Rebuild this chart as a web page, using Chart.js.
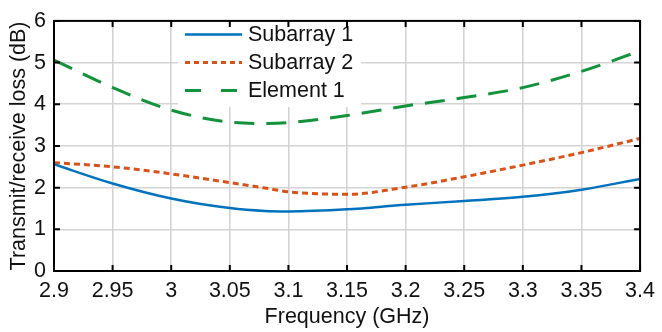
<!DOCTYPE html>
<html>
<head>
<meta charset="utf-8">
<script src="https://cdn.jsdelivr.net/npm/chart.js@4/dist/chart.umd.min.js"></script>
<style>
  html, body { margin: 0; padding: 0; background: #fff; }
  #wrap { width: 662px; height: 332px; }
</style>
</head>
<body>
<div id="wrap"><canvas id="c" width="662" height="332"></canvas></div>
<script>
// ---- data ----
const frequencies = [2.9, 2.95, 3.0, 3.05, 3.08, 3.1, 3.15, 3.2, 3.25, 3.3, 3.35, 3.4];
const subarray1   = [2.56, 2.10, 1.74, 1.51, 1.44, 1.43, 1.48, 1.59, 1.68, 1.78, 1.95, 2.21];
const subarray2   = [2.60, 2.50, 2.33, 2.12, 1.99, 1.90, 1.84, 2.01, 2.26, 2.54, 2.84, 3.18];
const element1    = [5.06, 4.40, 3.86, 3.57, 3.54, 3.56, 3.73, 3.96, 4.16, 4.40, 4.79, 5.28];
const seriesNames = ['Subarray 1', 'Subarray 2', 'Element 1'];
const xTicks = [2.9, 2.95, 3.0, 3.05, 3.1, 3.15, 3.2, 3.25, 3.3, 3.35, 3.4];
const yTicks = [0, 1, 2, 3, 4, 5, 6];
const xTitle = 'Frequency (GHz)';
const yTitle = 'Transmit/receive loss (dB)';

const FONT = "'Liberation Sans', Arial, Helvetica, sans-serif";
const FS = 21.5;

function pts(ys) { return frequencies.map((f, i) => ({ x: f, y: ys[i] })); }

const legendPlugin = {
  id: 'insideLegend',
  afterDatasetsDraw(chart) {
    const ctx = chart.ctx;
    ctx.save();
    ctx.fillStyle = '#ffffff';
    ctx.fillRect(178, 21, 183, 86);
    const rows = [34.5, 62.5, 90.5];
    chart.data.datasets.forEach((ds, i) => {
      const y = rows[i];
      ctx.strokeStyle = ds.borderColor;
      ctx.lineWidth = ds.borderWidth;
      ctx.setLineDash(ds.legendDash || []);
      ctx.lineCap = 'butt';
      ctx.beginPath();
      ctx.moveTo(185, y);
      ctx.lineTo(242, y);
      ctx.stroke();
      ctx.setLineDash([]);
      ctx.fillStyle = '#111';
      ctx.font = FS + 'px ' + FONT;
      ctx.textAlign = 'left';
      ctx.textBaseline = 'middle';
      ctx.fillText(ds.label, 248, y + 1);
    });
    ctx.restore();
  }
};

const boxPlugin = {
  id: 'axesBox',
  afterDraw(chart) {
    const { ctx, chartArea: a, scales } = chart;
    ctx.save();
    ctx.strokeStyle = '#000';
    ctx.lineWidth = 2;
    ctx.setLineDash([]);
    ctx.strokeRect(a.left, a.top, a.right - a.left, a.bottom - a.top);
    const L = 6;
    ctx.beginPath();
    xTicks.forEach(v => {
      const x = scales.x.getPixelForValue(v);
      ctx.moveTo(x, a.bottom); ctx.lineTo(x, a.bottom - L);
      ctx.moveTo(x, a.top); ctx.lineTo(x, a.top + L);
    });
    yTicks.forEach(v => {
      const y = scales.y.getPixelForValue(v);
      ctx.moveTo(a.left, y); ctx.lineTo(a.left + L, y);
      ctx.moveTo(a.right, y); ctx.lineTo(a.right - L, y);
    });
    ctx.stroke();
    ctx.restore();
  }
};

new Chart(document.getElementById('c'), {
  type: 'line',
  data: {
    datasets: [
      { label: seriesNames[0], data: pts(subarray1), borderColor: '#0072BD', borderWidth: 2.5,
        borderDash: [], legendDash: [] },
      { label: seriesNames[1], data: pts(subarray2), borderColor: '#D95319', borderWidth: 3,
        borderDash: [6, 4], legendDash: [5, 4] },
      { label: seriesNames[2], data: pts(element1), borderColor: '#12923A', borderWidth: 3,
        borderDash: [20, 12], legendDash: [16, 20] }
    ]
  },
  options: {
    responsive: false,
    animation: false,
    devicePixelRatio: 1,
    layout: { padding: { top: 13, right: 16, left: 0, bottom: 0 } },
    elements: {
      point: { radius: 0, hoverRadius: 0 },
      line: { cubicInterpolationMode: 'monotone', fill: false, borderCapStyle: 'butt' }
    },
    plugins: { legend: { display: false }, tooltip: { enabled: false } },
    scales: {
      x: {
        type: 'linear', min: 2.9, max: 3.4,
        afterBuildTicks: s => { s.ticks = xTicks.map(v => ({ value: v })); },
        afterFit: s => { s.height = 61; },
        grid: { color: '#d3d3d3', lineWidth: 1.6, drawTicks: false },
        border: { display: false },
        ticks: {
          padding: 7, maxRotation: 0, autoSkip: false,
          color: '#111', font: { family: FONT, size: FS },
          callback: v => String(Number(v.toFixed(2)))
        },
        title: { display: true, text: xTitle, color: '#111',
          font: { family: FONT, size: FS, lineHeight: 1.2 }, padding: { top: 0, bottom: 2.1 } }
      },
      y: {
        type: 'linear', min: 0, max: 6,
        afterBuildTicks: s => { s.ticks = yTicks.map(v => ({ value: v })); },
        afterFit: s => { s.width = 54; },
        grid: { color: '#d3d3d3', lineWidth: 1.6, drawTicks: false },
        border: { display: false },
        ticks: {
          padding: 8, color: '#111', font: { family: FONT, size: FS },
          callback: v => String(v)
        },
        title: { display: true, text: yTitle, color: '#111',
          font: { family: FONT, size: FS, lineHeight: 1.2 }, padding: { top: 6.1, bottom: 0 } }
      }
    }
  },
  plugins: [legendPlugin, boxPlugin]
});
</script>
</body>
</html>
